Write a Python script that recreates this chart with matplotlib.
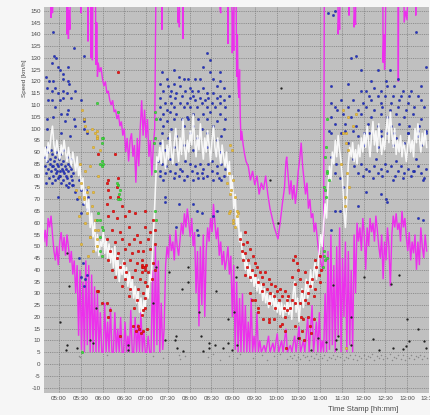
import matplotlib
matplotlib.use('Agg')
import matplotlib.pyplot as plt
from matplotlib.ticker import FixedLocator, FuncFormatter

# Times are minutes after midnight, speeds in km/h (170 = above the chart top)
MAGENTA_UPPER = [(279,170),(288.5,170),(289,147),(289.5,170),(290.5,170),(291,149),(291.5,170),(310,170),(311,140),(312,155),
    (313,138),(314,150),(315,142),(316,170),(329,170),(330,149),(331,170),(339,170),(340,137),(341,170),(343.5,170),(344,130),
    (345,160),(346,129),(347,170),(350,170),(351,127),(352,145),(353,122),(354,128),(356,124),(358,126),(360,121),(362,118),
    (364,120),(366,115),(368,116),(370,112),(372,110),(374,112),(376,107),(378,108),(380,104),(382,106),(384,101),(386,103),
    (388,97),(390,100),(392,90),(394,96),(396,86),(398,95),(400,98),(402,88),(404,93),(406,77),(408,96),(410,84),(412,100),
    (414,112),(416,97),(418,108),(420,96),(422,104),(424,88),(426,95),(428,80),(430,92),(432,100),(433,137),(434,170),
    (441.5,170),(442,142),(442.5,170),(463.5,170),(464,145),(465,150),(466,143),(466.5,170),(470.5,170),(471,138),(471.5,170),
    (521.5,170),(522,151),(523,149),(524,170),(532,170),(533,136),(534,170),(538,170),(539,132),(540,150),(541,133),(542,170),
    (544,170),(545,122),(546,140),(547,118),(548,113),(549,125),(550,105),(551,95),(552,99),(554,93),(556,89),(558,86),
    (561,84),(564,78),(567,82),(570,76),(573,80),(576,72),(579,77),(582,74),(585,80),(588,72),(591,66),(594,62),(597,58),
    (600,55),(602,53),(605,60),(608,68),(611,75),(613,86),(614,88),(616,80),(618,72),(620,78),(622,70),(624,76),(626,68),
    (628,74),(630,82),(632,87),(634,94),(636,84),(638,78),(640,72),(642,77),(644,66),(646,70),(648,62),(650,64),(652,56),
    (654,60),(656,54),(658,48),(660,45),(662,42),(664,40),(665,60),(666,170),(684.5,170),(685,140),(686,150),(687,142),
    (688,170),(699.5,170),(700,148),(700.5,170),(706.5,170),(707,143),(708,150),(709,144),(709.5,170),(746.5,170),(747,128),
    (748,140),(749,125),(750,135),(751,170),(767.5,170),(768,120),(768.5,170),(775.5,170),(776,145),(778,150),(780,146),
    (782,170),(791.5,170),(792,148),(792.5,170),(810,170)]

MAGENTA_LOWER = [(279,52),(281,57),(283,50),(285,62),(287,58),(289,63),(291,55),(293,48),(295,44),(297,50),(299,42),(301,52),
    (303,56),(305,48),(307,54),(309,46),(311,55),(313,50),(315,43),(317,48),(319,38),(321,44),(323,30),(325,42),(327,12),
    (329,40),(331,6),(333,35),(335,5),(337,44),(339,8),(341,42),(343,5),(345,38),(347,5),(349,33),(351,5),(353,30),(355,5),
    (357,22),(359,5),(361,5),(363,26),(365,5),(367,18),(369,5),(371,24),(373,5),(375,5),(377,22),(379,5),(381,15),(383,5),
    (385,20),(387,5),(389,5),(391,18),(393,5),(395,12),(397,5),(399,23),(401,5),(403,5),(405,20),(407,5),(409,17),(411,5),
    (413,22),(415,5),(417,14),(419,5),(421,5),(423,12),(425,5),(427,5),(429,40),(431,5),(433,50),(435,8),(437,44),(439,5),
    (441,26),(443,6),(445,15),(447,42),(449,50),(451,45),(453,55),(455,48),(457,52),(459,44),(461,57),(463,50),(465,46),
    (467,53),(469,60),(471,55),(473,64),(475,58),(477,66),(479,60),(481,54),(483,62),(485,50),(487,56),(489,30),(491,48),
    (493,16),(495,50),(497,25),(499,55),(501,20),(503,48),(505,58),(507,52),(509,62),(511,56),(513,68),(515,60),(517,53),
    (519,58),(521,46),(523,52),(525,42),(527,48),(529,40),(531,44),(533,50),(535,38),(537,46),(539,20),(541,42),(543,6),
    (545,35),(547,5),(549,28),(551,5),(553,30),(555,5),(557,25),(559,5),(561,18),(563,5),(565,28),(567,5),(569,12),(571,5),
    (573,22),(575,5),(577,10),(579,5),(583,8),(585,5),(589,12),(591,5),(595,9),(597,5),(601,13),(603,5),(607,10),(609,5),
    (613,15),(615,5),(619,8),(621,5),(625,12),(627,5),(631,16),(633,5),(637,10),(639,5),(643,20),(645,5),(649,25),(651,5),
    (655,18),(657,5),(659,22),(661,5),(663,10),(665,5),(667,30),(669,5),(671,48),(673,6),(675,55),(677,8),(679,42),(681,5),
    (683,50),(685,12),(687,58),(689,5),(691,45),(693,20),(695,52),(697,5),(699,48),(701,8),(703,40),(705,5),(707,55),
    (709,30),(711,60),(713,52),(715,58),(717,48),(719,62),(721,55),(723,40),(725,58),(727,50),(729,62),(731,56),(733,60),
    (735,52),(737,63),(739,57),(741,50),(743,45),(745,55),(747,36),(749,52),(751,44),(753,58),(755,50),(757,33),(759,55),
    (761,63),(763,58),(765,64),(767,57),(769,60),(771,52),(773,65),(775,58),(777,62),(779,54),(781,48),(783,56),(785,44),
    (787,52),(789,47),(791,55),(793,40),(795,52),(797,42),(799,58),(801,50),(803,45),(805,55),(807,48)]

WHITE_LINE = [(279,88),(281,92),(283,86),(285,94),(287,90),(289,97),(291,101),(293,93),(295,89),(297,95),(299,91),(301,87),
    (303,93),(305,89),(307,95),(309,90),(311,86),(313,92),(315,88),(317,84),(319,90),(321,86),(323,82),(325,88),(327,80),
    (329,84),(331,74),(333,79),(335,68),(337,74),(339,64),(341,70),(343,58),(345,64),(347,54),(349,60),(351,48),(353,55),
    (355,46),(357,52),(359,50),(361,56),(363,47),(365,53),(367,45),(369,51),(371,43),(373,49),(375,41),(377,50),(379,38),
    (381,46),(383,35),(385,42),(387,38),(389,44),(391,36),(393,41),(395,33),(397,39),(399,31),(401,36),(403,28),(405,33),
    (407,26),(409,31),(411,22),(413,28),(415,20),(417,27),(419,24),(421,32),(423,28),(425,38),(427,35),(429,48),(431,60),
    (433,75),(435,88),(437,86),(439,92),(441,85),(443,95),(445,88),(447,83),(449,93),(451,87),(453,98),(455,90),(457,85),
    (459,94),(461,100),(463,91),(465,86),(467,96),(469,89),(471,104),(473,92),(475,87),(477,95),(479,90),(481,99),(483,93),
    (485,106),(487,95),(489,88),(491,97),(493,91),(495,102),(497,94),(499,87),(501,96),(503,90),(505,99),(507,93),(509,86),
    (511,95),(513,101),(515,92),(517,88),(519,96),(521,90),(523,85),(525,93),(527,88),(529,84),(531,90),(533,80),(535,86),
    (537,72),(539,80),(541,66),(543,72),(545,58),(547,64),(549,52),(551,56),(553,45),(555,47),(557,40),(559,44),(561,37),
    (563,42),(565,35),(567,40),(569,33),(571,38),(573,31),(575,36),(577,30),(579,34),(581,27),(583,32),(585,26),(587,30),
    (589,24),(591,29),(593,25),(595,30),(597,23),(599,28),(601,22),(603,27),(605,21),(607,26),(609,20),(611,25),(613,22),
    (615,28),(617,21),(619,26),(621,19),(623,30),(625,35),(627,22),(629,28),(631,18),(633,26),(635,32),(637,24),(639,30),
    (641,36),(643,28),(645,33),(647,40),(649,32),(651,38),(653,43),(655,36),(657,41),(659,48),(661,55),(663,50),(665,60),
    (667,68),(669,62),(671,75),(673,84),(675,78),(677,90),(679,85),(681,95),(683,88),(685,97),(687,91),(689,86),(691,78),
    (693,65),(695,58),(697,70),(699,85),(701,92),(703,88),(705,94),(707,86),(709,91),(711,85),(713,93),(715,88),(717,96),
    (719,90),(721,98),(723,92),(725,101),(727,94),(729,88),(731,97),(733,103),(735,93),(737,99),(739,90),(741,102),(743,95),
    (745,89),(747,96),(749,91),(751,99),(753,105),(755,94),(757,107),(759,98),(761,92),(763,100),(765,89),(767,95),(769,90),
    (771,97),(773,88),(775,94),(777,91),(779,86),(781,93),(783,97),(785,90),(787,95),(789,88),(791,100),(793,94),(795,102),
    (797,96),(799,90),(801,98),(803,93),(805,99),(807,92)]

BLUE_POINTS = [
    # early free flow
    (280,84),(281,88),(282,81),(283,86),(284,90),(285,83),(286,79),(287,87),(288,85),(289,82),(290,89),(291,84),(292,80),
    (293,86),(294,83),(295,88),(296,81),(297,85),(298,79),(299,84),(300,87),(301,82),(302,80),(303,85),(304,83),(305,78),
    (306,86),(307,81),(308,84),(309,80),(310,83),(311,79),(312,85),(313,82),(314,77),(315,84),(316,80),(317,83),(318,78),
    (319,81),(284,92),(289,91),(296,90),(301,89),(306,91),(311,88),(316,87),(282,77),(294,78),(303,77),(309,76),(313,75),
    (318,76),(300,80),(305,82),(292,84),(297,82),
    (292,141),(293,131),(296,130),(290,128),(298,126),(302,125),(313,126),(306,123),(282,122),(286,120),(292,120),(305,121),
    (313,120),(314,119),(284,117),(290,116),(294,117),(298,115),(305,116),(311,115),(322,116),(305,113),(285,112),(290,112),
    (301,112),(317,113),(331,112),(294,109),(313,108),(284,104),(292,105),(303,106),(311,106),(308,103),(320,104),(334,104),
    (335,103),(322,101),(334,100),(339,98),(315,97),(303,98),(284,100),(320,134),(335,131),
    (319,76),(322,73),(325,70),(330,74),(333,68),(336,72),(338,66),(328,78),(331,64),(298,71),(290,77),
    (327,45),(333,43),(330,37),(336,36),(338,38),(334,33),(337,74),(340,71),
    # midday free flow
    (504,132),(508,129),(499,126),(458,125),(442,124),(508,124),(522,124),(449,121),(465,122),(472,121),(478,121),(488,121),
    (495,121),(513,121),(522,120),(439,119),(451,118),(458,119),(467,118),(481,117),(499,117),(518,118),(527,117),(444,116),
    (455,116),(462,115),(474,116),(483,116),(485,114),(492,116),(504,115),(513,115),(522,114),(534,114),(439,113),(453,114),
    (460,113),(469,114),(481,113),(494,113),(501,112),(506,113),(518,113),(527,112),(446,111),(455,111),(467,111),(476,111),
    (488,112),(497,111),(511,111),(522,111),(439,109),(449,108),(458,109),(472,109),(481,109),(490,109),(504,109),(515,109),
    (529,109),(444,106),(453,107),(462,106),(476,105),(485,106),(499,106),(508,107),(522,106),(439,104),(449,103),(458,104),
    (469,104),(478,104),(492,104),(504,104),(518,103),(529,104),(444,101),(455,100),(472,101),(485,101),(497,100),(513,101),
    (527,100),(442,98),(462,97),(481,98),(504,98),(524,97),(451,96),(490,96),(518,95),
    (439,94),(446,91),(458,92),(472,93),(485,91),(504,92),(522,90),(437,86),(442,85),(448,84),(453,87),(462,85),(467,83),
    (474,86),(481,85),(488,84),(494,85),(499,83),(506,85),(511,86),(518,84),(524,85),(529,83),(439,82),(446,81),(453,82),
    (460,81),(469,82),(476,80),(483,82),(490,81),(497,81),(504,80),(511,82),(518,81),(527,80),(444,78),(458,79),(472,78),
    (485,78),(499,79),(513,78),(524,78),(439,80),(465,80),(492,79),(520,79),(446,71),(446,69),(465,68),(485,68),(490,65),
    (497,64),(462,58),(490,57),(492,55),(513,63),(518,65),
    # afternoon free flow
    (671,149),(678,148),(680,150),(703,130),(710,131),(792,141),(717,125),(740,125),(756,125),(806,126),(698,119),(730,120),
    (751,120),(767,121),(675,118),(717,116),(724,116),(735,117),(744,116),(753,118),(762,118),(774,116),(786,116),(799,118),
    (728,114),(740,114),(749,114),(760,114),(772,114),(783,114),(795,114),(675,111),(689,112),(705,112),(719,111),(730,112),
    (744,111),(758,111),(769,112),(781,111),(799,112),(680,109),(684,108),(698,109),(712,108),(724,109),(735,108),(746,109),
    (756,108),(767,109),(779,108),(790,109),(804,109),(675,105),(691,106),(703,105),(717,106),(730,105),(744,106),(753,105),
    (765,106),(776,105),(788,106),(799,104),(680,102),(694,102),(710,101),(726,102),(740,101),(758,101),(769,102),(783,101),
    (797,101),(673,99),(689,98),(705,99),(721,98),(744,99),(762,98),(781,98),(795,99),(806,98),
    (675,98),(694,99),(712,97),(728,98),(744,97),(753,98),(765,96),(781,98),(795,97),(806,99),(698,94),(721,93),(740,92),
    (760,93),(776,94),(799,93),(675,88),(682,85),(680,81),(687,79),(691,75),(707,84),(712,81),(717,85),(724,83),(728,82),
    (735,84),(740,81),(744,83),(749,85),(753,82),(758,84),(763,80),(767,82),(772,84),(776,81),(781,83),(786,80),(790,82),
    (795,84),(799,81),(804,79),(806,83),(719,80),(733,79),(746,80),(760,78),(774,79),(788,82),(802,78),(705,87),(737,87),
    (765,86),(792,87),(724,73),(744,72),(751,70),(753,69),(680,65),(675,57),(687,65),(795,62),(802,61),(712,67)]

RED_POINTS = [
    (354,89),(368,78),(380,75),(368,74),(382,71),(366,68),(375,65),(387,67),(396,65),(368,63),(380,62),(391,63),(405,64),
    (419,65),(430,61),(373,57),(384,56),(396,58),(407,55),(419,58),(426,56),(433,57),(366,53),(377,52),(387,53),(396,51),
    (403,53),(412,52),(423,53),(433,51),(370,48),(382,47),(391,49),(400,47),(409,48),(416,48),(426,49),(368,44),(380,45),
    (389,43),(398,44),(407,43),(414,44),(419,41),(430,43),(373,40),(384,41),(393,39),(405,40),(414,41),(423,39),(433,40),
    (377,37),(391,36),(400,37),(412,36),(419,35),(428,36),(387,33),(398,32),(409,32),(421,33),(396,29),(407,27),(419,28),
    (403,24),(416,23),(354,31),(359,26),(368,20),(409,16),(421,15),(414,21),(414,42),(416,41),(418,40),(420,42),
    (353,31),(366,26),(370,23),(402,16),(406,14),(410,15),(413,13),(416,14),(384,12),(366,77),(381,79),(377,89),(370,71),
    (382,124),(414,39),(416,30),(419,24),
    (550,53),(554,51),(559,52),(552,48),(557,47),(564,49),(568,46),(554,44),(561,44),(570,43),(559,41),(566,40),(573,41),
    (577,39),(557,38),(564,37),(570,38),(580,37),(584,39),(575,35),(582,34),(589,36),(593,34),(587,32),(598,33),(580,31),
    (591,30),(600,31),(605,32),(596,29),(607,29),(612,31),(616,29),(603,27),(614,27),(621,27),(610,24),(619,24),(626,26),
    (598,24),(589,26),(623,44),(626,46),(628,43),(630,40),(621,37),(633,36),(626,34),(635,31),(639,39),(642,35),(646,33),
    (644,30),(649,36),(651,29),(639,27),(633,26),(653,44),(655,41),(658,38),(660,35),(653,32),(660,46),(662,40),(589,19),
    (607,17),(644,20),(637,19),(646,16),(635,14),(575,22),(612,20),(566,27),(557,56),
    (615,23),(625,16),(631,11),(638,10),(648,13),(652,19),(613,7),(634,20),(643,26),(582,19),(589,18),(596,19),(605,16),
    (612,14),(564,30),(570,27),(575,24)]

YELLOW_POINTS = [(332,108),(335,104),(338,99),(336,101),(346,100),(350,98),(352,97),(352,99),(352,96),(352,96),(329,85),
    (336,82),(343,84),(331,77),(340,75),(347,73),(327,71),(334,70),(345,67),(338,64),(350,61),(354,57),(343,54),(352,53),
    (357,91),(354,80),(347,92),(324,74),(334,71),(338,73),(327,63),(336,60),(343,54),(331,51),(347,48),(340,46),(350,57),
    (352,50),(536,93),(538,91),(535,81),(540,78),(537,74),(543,71),(536,65),(545,63),(540,60),(547,64),(531,77),(536,72),
    (540,61),(543,58),(534,64),(545,65),(691,98),(696,94),(698,91),(697,81),(700,75),(694,71),(694,67),(689,85),(691,108),
    (698,105),(705,101),(696,98),(710,106),(696,7)]

GREEN_POINTS = [(352,111),(382,107),(361,96),(359,96),(359,94),(357,85),(359,84),(354,64),(357,61),(359,58),(357,48),
    (359,46),(382,76),(383,72),(384,70),(359,86),(361,85),(352,61),(361,57),(357,54),(380,77),(382,70),(384,74),(432,107),
    (434,104),(432,96),(431,94),(432,82),(432,65),(434,61),(668,92),(667,88),(670,81),(666,75),(668,71),(665,48),(667,44),
    (664,41),(669,82),(672,78),(667,74),(665,46),(669,45),(670,104),(332,5)]

BLACK_POINTS = [(301,18),(311,8),(310,6),(314,33),(325,7),(343,10),(347,9),(351,24),(395,8),(395,6),(311,47),(434,41),
    (430,26),(452,39),(470,32),(478,41),(478,35),(493,22),(496,12),(446,10),(460,10),(461,12),(463,7),(471,5.5),(499,5.5),
    (507,9),(507,7),(515,8),(517,31),(526,7),(533,19),(533,9),(539,6),(541,22),(544,37),(546,8),(546,41),(591,78),(602,60),
    (630,11),(648,6),(657,11),(668,9.5),(678,33.5),(682,10),(685,12),(682,6.5),(703,20),(703,8),(721,37),(733,10.6),(741,6),
    (761,6.8),(758,34),(769,38),(775,6.4),(779,7.6),(780,19),(783,9.8),(795,15),(803,9.8),(806,7),(606,117)]

GRAY_POINTS = [(328,3.5),(366,3.8),(329,3),(430,3.2),(444,2.5),(465,4),(467,2.2),(474,3.5),(506,2.8),(513,4.2),(522,1.9),
    (534,3.6),(545,2.4),(550,4.1),(568,2.7),(580,3.9),(587,1.8),(596,3.3),(605,4.4),(614,2.1),(618,3.4),(621,2.6),(624,3.9),
    (627,1.7),(630,3.1),(633,2.3),(636,4),(639,2.8),(642,3.6),(645,1.9),(648,3.2),(651,2.5),(654,4.2),(657,2),(660,3.3),
    (663,2.7),(666,3.8),(669,1.6),(672,3),(675,2.4),(678,3.9),(681,2.1),(684,3.5),(687,2.8),(690,4.3),(693,1.9),(696,3.1),
    (699,2.6),(702,3.7),(705,2.2),(708,4),(711,1.8),(714,3.3),(717,2.5),(720,3.8),(723,2),(726,3.4),(729,2.9),(732,4.1),
    (735,1.7),(738,3.2),(741,2.4),(744,3.9),(747,2.1),(750,3.5),(753,2.7),(756,4.2),(759,1.9),(762,3),(765,2.5),(768,3.7),
    (771,2.2),(774,3.9),(777,1.8),(780,3.3),(783,2.6),(786,4),(789,2.1),(792,3.4),(795,2.8),(798,3.8),(801,2),(804,3.2),
    (807,2.6)]

X_TICKS = list(range(300, 811, 30))
Y_TICKS = list(range(-10, 151, 5))
X_LABEL = 'Time Stamp [hh:mm]'
Y_LABEL = 'Speed [km/h]'


def split(points):
    return [p[0] for p in points], [p[1] for p in points]


plt.rcParams['font.family'] = ['Liberation Sans', 'DejaVu Sans']

fig = plt.figure(figsize=(4.31, 4.15), dpi=100, facecolor='#f6f6f6')
ax = fig.add_axes([44 / 431, 22 / 415, 384.8 / 431, 386 / 415])
ax.set_facecolor('#c0c0c0')
ax.set_xlim(279.3, 810)
ax.set_ylim(-12.3, 151.6)

for s in ax.spines.values():
    s.set_visible(False)

ax.xaxis.set_major_locator(FixedLocator(X_TICKS))
ax.yaxis.set_major_locator(FixedLocator(Y_TICKS))
ax.xaxis.set_major_formatter(FuncFormatter(lambda v, p: f'{int(v) // 60:02d}:{int(v) % 60:02d}'))
ax.yaxis.set_major_formatter(FuncFormatter(lambda v, p: f'{int(v)}'))
ax.tick_params(length=0, pad=2.5, labelsize=4.5, colors='#4a4a4a')
ax.grid(True, color='#7d7d7d', linestyle=(0, (1.2, 1.2)), linewidth=0.55)
ax.set_axisbelow(True)

mt, mv = split(MAGENTA_UPPER)
ax.plot(mt, mv, color='#ec30ec', lw=1.0, zorder=2, solid_joinstyle='miter')
mt, mv = split(MAGENTA_LOWER)
ax.plot(mt, mv, color='#ec30ec', lw=1.0, zorder=2, solid_joinstyle='miter')

gt, gv = split(GRAY_POINTS)
ax.scatter(gt, gv, s=1.2, color='#8a8a8a', linewidths=0, zorder=3)

bt, bv = split(BLUE_POINTS)
ax.scatter(bt, bv, s=2.6, color='#2232c8', edgecolors='#16208a', linewidths=0.3, zorder=3)

wt, wv = split(WHITE_LINE)
ax.plot(wt, wv, color='white', lw=1.15, alpha=0.9, zorder=4)

rt, rv = split(RED_POINTS)
ax.scatter(rt, rv, s=3.6, color='#f01818', edgecolors='#b00000', linewidths=0.3, zorder=5)

yt, yv = split(YELLOW_POINTS)
ax.scatter(yt, yv, s=3.2, color='#e8c040', edgecolors='#c09020', linewidths=0.3, zorder=5)

gnt, gnv = split(GREEN_POINTS)
ax.scatter(gnt, gnv, s=3.2, color='#40e040', edgecolors='#20a020', linewidths=0.3, zorder=5)

kt, kv = split(BLACK_POINTS)
ax.scatter(kt, kv, s=2.8, color='#222222', linewidths=0, zorder=6)

ax.set_ylabel(Y_LABEL, fontsize=4.6, color='#4a4a4a')
ax.yaxis.set_label_coords(-0.045, 0.816)
ax.set_xlabel(X_LABEL, fontsize=5.5, color='#4a4a4a')
ax.xaxis.set_label_coords(0.83, -0.034)

fig.savefig('out.png', dpi=100, facecolor=fig.get_facecolor())
